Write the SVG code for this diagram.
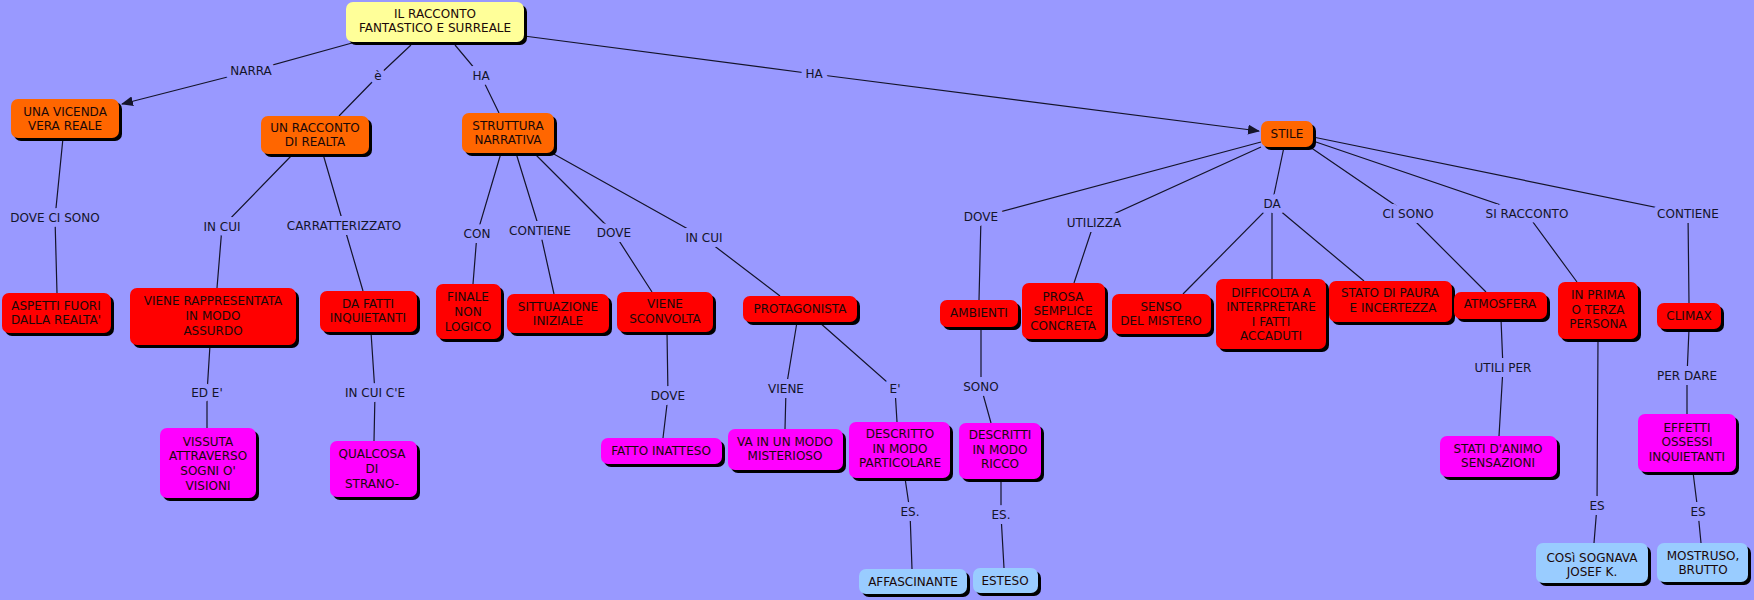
<svg xmlns="http://www.w3.org/2000/svg" width="1754" height="600" viewBox="0 0 1754 600">
<style>
.c{fill:none;stroke:#14142a;stroke-width:1.2}
.lb{font-family:"DejaVu Sans",Verdana,sans-serif;font-size:12px;fill:#14142a;text-anchor:middle;stroke:#9999FF;stroke-width:10;paint-order:stroke;stroke-linejoin:round}
.t{font-family:"DejaVu Sans",Verdana,sans-serif;font-size:12px;fill:#1a0808;text-anchor:middle}
.sh{fill:#000}
.y{fill:#FFFF99}.o{fill:#FF6600}.r{fill:#FF0000}.m{fill:#FF00FF}.b{fill:#99CCFF}
</style>
<defs>
<marker id="ar" markerWidth="12" markerHeight="10" refX="11" refY="5" orient="auto" markerUnits="userSpaceOnUse">
<path d="M0,0 L12,5 L0,10 z" fill="#14142a"/>
</marker>
</defs>
<rect width="1754" height="600" fill="#9999FF"/>
<g id="connectors">
<path class="c" d="M352,43 L251,71 L122,104" marker-end="url(#ar)"/>
<path class="c" d="M411,45 L378,76 L339,116"/>
<path class="c" d="M455,45 L481,76 L499,113"/>
<path class="c" d="M524,36 L814,74 L1259,131" marker-end="url(#ar)"/>
<path class="c" d="M63,138 L55,218 L57,293"/>
<path class="c" d="M293,154 L222,227 L217,288"/>
<path class="c" d="M323,154 L344,226 L363,291"/>
<path class="c" d="M501,153 L477,234 L473,284"/>
<path class="c" d="M516,153 L540,231 L554,294"/>
<path class="c" d="M534,153 L614,233 L652,292"/>
<path class="c" d="M552,153 L704,238 L780,296"/>
<path class="c" d="M210,345 L207,393 L207,428"/>
<path class="c" d="M371,332 L375,393 L374,441"/>
<path class="c" d="M667,332 L668,396 L663,438"/>
<path class="c" d="M797,322 L786,389 L785,429"/>
<path class="c" d="M819,322 L895,389 L897,422"/>
<path class="c" d="M981,327 L981,387 L991,423"/>
<path class="c" d="M905,478 L910,512 L912,569"/>
<path class="c" d="M1001,479 L1001,515 L1004,568"/>
<path class="c" d="M1261,142 L981,217 L979,300"/>
<path class="c" d="M1261,147 L1094,223 L1074,283"/>
<path class="c" d="M1284,147 L1272,204"/>
<path class="c" d="M1272,204 L1183,294"/>
<path class="c" d="M1272,204 L1272,279"/>
<path class="c" d="M1272,204 L1364,281"/>
<path class="c" d="M1310,147 L1408,214 L1486,292"/>
<path class="c" d="M1313,141 L1527,214 L1577,282"/>
<path class="c" d="M1313,137 L1688,214 L1689,303"/>
<path class="c" d="M1501,319 L1503,368 L1499,436"/>
<path class="c" d="M1689,329 L1687,376 L1687,414"/>
<path class="c" d="M1598,339 L1597,506 L1594,543"/>
<path class="c" d="M1693,472 L1698,512 L1701,543"/>
<text class="lb" x="251" y="75">NARRA</text>
<text class="lb" x="378" y="80">è</text>
<text class="lb" x="481" y="80">HA</text>
<text class="lb" x="814" y="78">HA</text>
<text class="lb" x="55" y="222">DOVE CI SONO</text>
<text class="lb" x="222" y="231">IN CUI</text>
<text class="lb" x="344" y="230">CARRATTERIZZATO</text>
<text class="lb" x="477" y="238">CON</text>
<text class="lb" x="540" y="235">CONTIENE</text>
<text class="lb" x="614" y="237">DOVE</text>
<text class="lb" x="704" y="242">IN CUI</text>
<text class="lb" x="207" y="397">ED E'</text>
<text class="lb" x="375" y="397">IN CUI C'E</text>
<text class="lb" x="668" y="400">DOVE</text>
<text class="lb" x="786" y="393">VIENE</text>
<text class="lb" x="895" y="393">E'</text>
<text class="lb" x="981" y="391">SONO</text>
<text class="lb" x="910" y="516">ES.</text>
<text class="lb" x="1001" y="519">ES.</text>
<text class="lb" x="981" y="221">DOVE</text>
<text class="lb" x="1094" y="227">UTILIZZA</text>
<text class="lb" x="1272" y="208">DA</text>
<text class="lb" x="1408" y="218">CI SONO</text>
<text class="lb" x="1527" y="218">SI RACCONTO</text>
<text class="lb" x="1688" y="218">CONTIENE</text>
<text class="lb" x="1503" y="372">UTILI PER</text>
<text class="lb" x="1687" y="380">PER DARE</text>
<text class="lb" x="1597" y="510">ES</text>
<text class="lb" x="1698" y="516">ES</text>
</g>
<g id="root"><rect class="sh" x="349" y="5" width="178" height="40" rx="7"/><rect class="y" x="346" y="2" width="178" height="40" rx="7"/><text class="t" x="435" y="18">IL RACCONTO</text><text class="t" x="435" y="32">FANTASTICO E SURREALE</text></g>
<g id="una_vicenda"><rect class="sh" x="14" y="102" width="108" height="39" rx="7"/><rect class="o" x="11" y="99" width="108" height="39" rx="7"/><text class="t" x="65" y="116">UNA VICENDA</text><text class="t" x="65" y="130">VERA REALE</text></g>
<g id="un_racconto"><rect class="sh" x="264" y="119" width="108" height="38" rx="7"/><rect class="o" x="261" y="116" width="108" height="38" rx="7"/><text class="t" x="315" y="132">UN RACCONTO</text><text class="t" x="315" y="146">DI REALTA</text></g>
<g id="struttura"><rect class="sh" x="465" y="116" width="92" height="40" rx="7"/><rect class="o" x="462" y="113" width="92" height="40" rx="7"/><text class="t" x="508" y="130">STRUTTURA</text><text class="t" x="508" y="144">NARRATIVA</text></g>
<g id="stile"><rect class="sh" x="1264" y="124" width="52" height="26" rx="7"/><rect class="o" x="1261" y="121" width="52" height="26" rx="7"/><text class="t" x="1287" y="138">STILE</text></g>
<g id="aspetti"><rect class="sh" x="5" y="296" width="109" height="40" rx="7"/><rect class="r" x="2" y="293" width="109" height="40" rx="7"/><text class="t" x="56" y="310">ASPETTI FUORI</text><text class="t" x="56" y="324">DALLA REALTA'</text></g>
<g id="viene_rappresentata"><rect class="sh" x="133" y="291" width="166" height="57" rx="7"/><rect class="r" x="130" y="288" width="166" height="57" rx="7"/><text class="t" x="213" y="305">VIENE RAPPRESENTATA</text><text class="t" x="213" y="320">IN MODO</text><text class="t" x="213" y="335">ASSURDO</text></g>
<g id="da_fatti"><rect class="sh" x="323" y="294" width="97" height="41" rx="7"/><rect class="r" x="320" y="291" width="97" height="41" rx="7"/><text class="t" x="368" y="308">DA FATTI</text><text class="t" x="368" y="322">INQUIETANTI</text></g>
<g id="finale"><rect class="sh" x="439" y="287" width="65" height="55" rx="7"/><rect class="r" x="436" y="284" width="65" height="55" rx="7"/><text class="t" x="468" y="301">FINALE</text><text class="t" x="468" y="316">NON</text><text class="t" x="468" y="331">LOGICO</text></g>
<g id="sittuazione"><rect class="sh" x="510" y="297" width="102" height="39" rx="7"/><rect class="r" x="507" y="294" width="102" height="39" rx="7"/><text class="t" x="558" y="311">SITTUAZIONE</text><text class="t" x="558" y="325">INIZIALE</text></g>
<g id="viene_sconvolta"><rect class="sh" x="620" y="295" width="96" height="40" rx="7"/><rect class="r" x="617" y="292" width="96" height="40" rx="7"/><text class="t" x="665" y="308">VIENE</text><text class="t" x="665" y="323">SCONVOLTA</text></g>
<g id="protagonista"><rect class="sh" x="746" y="299" width="114" height="26" rx="7"/><rect class="r" x="743" y="296" width="114" height="26" rx="7"/><text class="t" x="800" y="313">PROTAGONISTA</text></g>
<g id="ambienti"><rect class="sh" x="943" y="303" width="78" height="27" rx="7"/><rect class="r" x="940" y="300" width="78" height="27" rx="7"/><text class="t" x="979" y="317">AMBIENTI</text></g>
<g id="prosa"><rect class="sh" x="1025" y="286" width="83" height="56" rx="7"/><rect class="r" x="1022" y="283" width="83" height="56" rx="7"/><text class="t" x="1063" y="301">PROSA</text><text class="t" x="1063" y="315">SEMPLICE</text><text class="t" x="1063" y="330">CONCRETA</text></g>
<g id="senso"><rect class="sh" x="1115" y="297" width="99" height="40" rx="7"/><rect class="r" x="1112" y="294" width="99" height="40" rx="7"/><text class="t" x="1161" y="311">SENSO</text><text class="t" x="1161" y="325">DEL MISTERO</text></g>
<g id="difficolta"><rect class="sh" x="1219" y="282" width="110" height="70" rx="7"/><rect class="r" x="1216" y="279" width="110" height="70" rx="7"/><text class="t" x="1271" y="297">DIFFICOLTA A</text><text class="t" x="1271" y="311">INTERPRETARE</text><text class="t" x="1271" y="326">I FATTI</text><text class="t" x="1271" y="340">ACCADUTI</text></g>
<g id="stato_paura"><rect class="sh" x="1332" y="284" width="123" height="41" rx="7"/><rect class="r" x="1329" y="281" width="123" height="41" rx="7"/><text class="t" x="1390" y="297">STATO DI PAURA</text><text class="t" x="1393" y="312">E INCERTEZZA</text></g>
<g id="atmosfera"><rect class="sh" x="1457" y="295" width="93" height="27" rx="7"/><rect class="r" x="1454" y="292" width="93" height="27" rx="7"/><text class="t" x="1500" y="308">ATMOSFERA</text></g>
<g id="in_prima"><rect class="sh" x="1561" y="285" width="80" height="57" rx="7"/><rect class="r" x="1558" y="282" width="80" height="57" rx="7"/><text class="t" x="1598" y="299">IN PRIMA</text><text class="t" x="1598" y="314">O TERZA</text><text class="t" x="1598" y="328">PERSONA</text></g>
<g id="climax"><rect class="sh" x="1660" y="306" width="64" height="26" rx="7"/><rect class="r" x="1657" y="303" width="64" height="26" rx="7"/><text class="t" x="1689" y="320">CLIMAX</text></g>
<g id="vissuta"><rect class="sh" x="163" y="431" width="96" height="70" rx="7"/><rect class="m" x="160" y="428" width="96" height="70" rx="7"/><text class="t" x="208" y="446">VISSUTA</text><text class="t" x="208" y="460">ATTRAVERSO</text><text class="t" x="208" y="475">SOGNI O'</text><text class="t" x="208" y="490">VISIONI</text></g>
<g id="qualcosa"><rect class="sh" x="333" y="444" width="87" height="56" rx="7"/><rect class="m" x="330" y="441" width="87" height="56" rx="7"/><text class="t" x="372" y="458">QUALCOSA</text><text class="t" x="372" y="473">DI</text><text class="t" x="372" y="488">STRANO-</text></g>
<g id="fatto_inatteso"><rect class="sh" x="604" y="441" width="121" height="26" rx="7"/><rect class="m" x="601" y="438" width="121" height="26" rx="7"/><text class="t" x="661" y="455">FATTO INATTESO</text></g>
<g id="va_in_un_modo"><rect class="sh" x="731" y="432" width="115" height="41" rx="7"/><rect class="m" x="728" y="429" width="115" height="41" rx="7"/><text class="t" x="785" y="446">VA IN UN MODO</text><text class="t" x="785" y="460">MISTERIOSO</text></g>
<g id="descritto"><rect class="sh" x="852" y="425" width="101" height="56" rx="7"/><rect class="m" x="849" y="422" width="101" height="56" rx="7"/><text class="t" x="900" y="438">DESCRITTO</text><text class="t" x="900" y="453">IN MODO</text><text class="t" x="900" y="467">PARTICOLARE</text></g>
<g id="descritti"><rect class="sh" x="962" y="426" width="82" height="56" rx="7"/><rect class="m" x="959" y="423" width="82" height="56" rx="7"/><text class="t" x="1000" y="439">DESCRITTI</text><text class="t" x="1000" y="454">IN MODO</text><text class="t" x="1000" y="468">RICCO</text></g>
<g id="stati_animo"><rect class="sh" x="1443" y="439" width="117" height="41" rx="7"/><rect class="m" x="1440" y="436" width="117" height="41" rx="7"/><text class="t" x="1498" y="453">STATI D'ANIMO</text><text class="t" x="1498" y="467">SENSAZIONI</text></g>
<g id="effetti"><rect class="sh" x="1641" y="417" width="98" height="58" rx="7"/><rect class="m" x="1638" y="414" width="98" height="58" rx="7"/><text class="t" x="1687" y="432">EFFETTI</text><text class="t" x="1687" y="446">OSSESSI</text><text class="t" x="1687" y="461">INQUIETANTI</text></g>
<g id="affascinante"><rect class="sh" x="862" y="572" width="108" height="25" rx="7"/><rect class="b" x="859" y="569" width="108" height="25" rx="7"/><text class="t" x="913" y="586">AFFASCINANTE</text></g>
<g id="esteso"><rect class="sh" x="976" y="571" width="65" height="25" rx="7"/><rect class="b" x="973" y="568" width="65" height="25" rx="7"/><text class="t" x="1005" y="585">ESTESO</text></g>
<g id="cosi_sognava"><rect class="sh" x="1539" y="546" width="112" height="40" rx="7"/><rect class="b" x="1536" y="543" width="112" height="40" rx="7"/><text class="t" x="1592" y="562">COSì SOGNAVA</text><text class="t" x="1592" y="576">JOSEF K.</text></g>
<g id="mostruso"><rect class="sh" x="1660" y="546" width="91" height="39" rx="7"/><rect class="b" x="1657" y="543" width="91" height="39" rx="7"/><text class="t" x="1703" y="560">MOSTRUSO,</text><text class="t" x="1703" y="574">BRUTTO</text></g>
</svg>
